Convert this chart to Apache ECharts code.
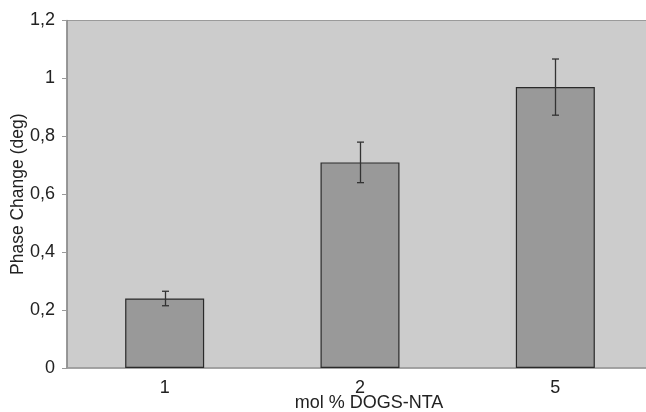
<!DOCTYPE html>
<html><head><meta charset="utf-8">
<script src="https://cdn.jsdelivr.net/npm/echarts@6/dist/echarts.min.js"></script>
<style>html,body{margin:0;padding:0;background:#fff}#c{width:646px;height:412px}</style>
</head><body><div id="c"></div>
<script>
const categories = ['1', '2', '5'];
const values = [0.24, 0.71, 0.97];
const errors = [0.025, 0.07, 0.097];
const yTicks = [0, 0.2, 0.4, 0.6, 0.8, 1, 1.2];

const chart = echarts.init(document.getElementById('c'), null, {renderer: 'canvas'});
const font = '"Liberation Sans", Arial, sans-serif';
chart.setOption({
  animation: false,
  grid: {left: 67, top: 20.5, right: -7, bottom: 44, outerBoundsMode: 'none', containLabel: false,
    show: true, backgroundColor: '#cccccc', borderColor: '#9a9a9a', borderWidth: 1},
  xAxis: {
    type: 'category', data: categories,
    name: 'mol % DOGS-NTA', nameLocation: 'middle', nameGap: 26, nameMoveOverlap: false,
    nameTextStyle: {fontFamily: font, fontSize: 18, color: '#222', padding: [0, 0, 0, 18]},
    axisLine: {lineStyle: {color: '#999', width: 1.5}},
    axisTick: {show: false},
    axisLabel: {fontFamily: font, fontSize: 18, color: '#222', margin: 11}
  },
  yAxis: {
    type: 'value', min: 0, max: 1.2, interval: 0.2,
    name: 'Phase Change (deg)', nameLocation: 'middle', nameGap: 40, nameMoveOverlap: false,
    nameTextStyle: {fontFamily: font, fontSize: 17.5, color: '#222'},
    axisLine: {show: true, lineStyle: {color: '#888', width: 1.5}},
    axisTick: {show: true, length: 5, lineStyle: {color: '#999'}},
    splitLine: {show: false},
    axisLabel: {fontFamily: font, fontSize: 18, color: '#222', margin: 12,
      formatter: v => String(+v.toFixed(1)).replace('.', ',')}
  },
  series: [{
    type: 'bar', data: values, barWidth: 79,
    itemStyle: {color: '#999999', borderColor: '#2a2a2a', borderWidth: 1.2}
  }, {
    type: 'custom',
    data: values.map((v, i) => [i, v - errors[i], v + errors[i]]),
    renderItem: function (params, api) {
      const lo = api.coord([api.value(0), api.value(1)]);
      const hi = api.coord([api.value(0), api.value(2)]);
      const x = Math.round(lo[0]) + 0.5;
      const cap = 3.5;
      const st = {stroke: '#333', lineWidth: 1.3};
      return {type: 'group', children: [
        {type: 'line', shape: {x1: x, y1: hi[1], x2: x, y2: lo[1]}, style: st},
        {type: 'line', shape: {x1: x - cap, y1: hi[1], x2: x + cap, y2: hi[1]}, style: st},
        {type: 'line', shape: {x1: x - cap, y1: lo[1], x2: x + cap, y2: lo[1]}, style: st}
      ]};
    },
    z: 5
  }]
});
</script></body></html>
